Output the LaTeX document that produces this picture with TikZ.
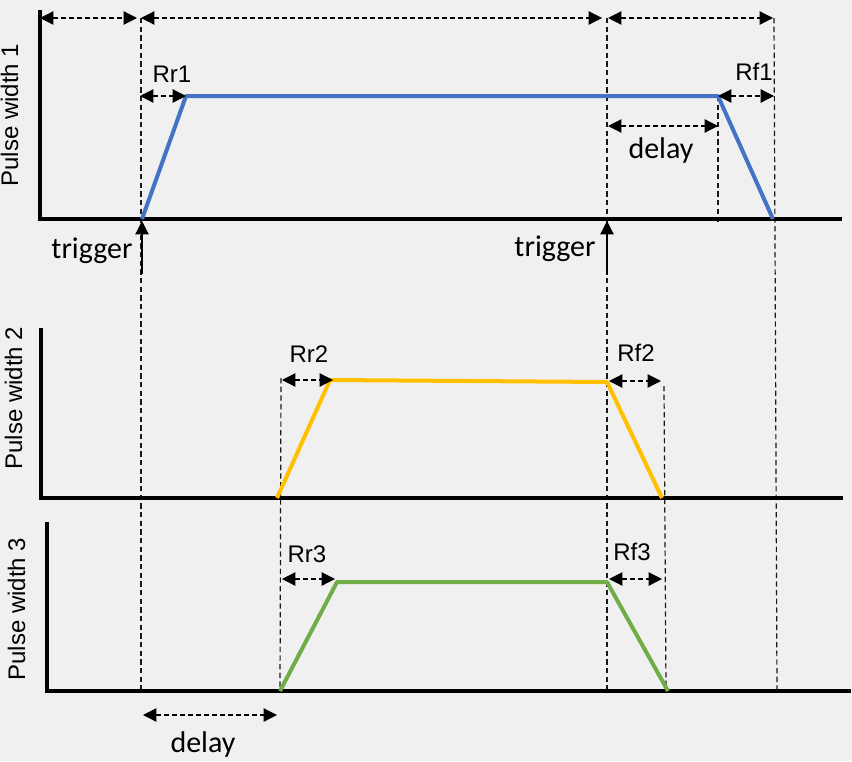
\documentclass[tikz,border=0pt]{standalone}
\usepackage{fontspec}
\setmainfont{Liberation Sans}
\newfontfamily\calibrifont{Carlito}
\usepackage{tikz}
\usetikzlibrary{arrows.meta}

\definecolor{pulseblue}{HTML}{4472C4}
\definecolor{pulseorange}{HTML}{FFC000}
\definecolor{pulsegreen}{HTML}{70AD47}
\definecolor{bggray}{HTML}{F0F0F0}

\begin{document}
\begin{tikzpicture}[x=0.75pt,y=-0.75pt,
		axis/.style={line width=3pt},
		pulse/.style={line width=3pt, line join=round},
		guide/.style={dash pattern=on 4pt off 2.5pt, line width=0.9pt, black!90},
		dim/.style={dash pattern=on 3.5pt off 2.5pt, line width=0.9pt, {Triangle[length=10pt,width=10pt]}-{Triangle[length=10pt,width=10pt]}},
		trig/.style={line width=0.9pt, -{Triangle[length=10pt,width=10pt]}},
		lbl/.style={font=\fontsize{18}{20}\selectfont, anchor=base, inner sep=0pt},
		note/.style={font=\calibrifont\fontsize{22.5}{25}\selectfont, anchor=base, inner sep=0pt}]

		\fill[bggray] (0,0) rectangle (852,761);
		\useasboundingbox (0,0) rectangle (852,761);

		% key points
		\coordinate (d0) at (40,18);
		\coordinate (d1) at (137,18);
		\coordinate (d2) at (141,18);
		\coordinate (d3) at (602,18);
		\coordinate (d4) at (608,18);
		\coordinate (d5) at (773,18);

		\coordinate (g1a) at (141,18);   \coordinate (g1b) at (141,690);
		\coordinate (g2a) at (607,18);   \coordinate (g2b) at (607,690);
		\coordinate (g3a) at (718,96);   \coordinate (g3b) at (718,222);
		\coordinate (g4a) at (774,18);   \coordinate (g4b) at (777,690);
		\coordinate (g5a) at (281,378);  \coordinate (g5b) at (280,690);
		\coordinate (g6a) at (664,386);  \coordinate (g6b) at (666,690);

		\coordinate (ax1top) at (40,10);  \coordinate (ax1o) at (40,219);  \coordinate (ax1end) at (842,219);
		\coordinate (ax2top) at (41,328); \coordinate (ax2o) at (41,498);  \coordinate (ax2end) at (843,498);
		\coordinate (ax3top) at (47,522); \coordinate (ax3o) at (47,691);  \coordinate (ax3end) at (851,691);

		\coordinate (b1) at (142,219); \coordinate (b2) at (186,96);  \coordinate (b3) at (718,96);  \coordinate (b4) at (773,219);
		\coordinate (o1) at (277,498); \coordinate (o2) at (330,380); \coordinate (o3) at (607,382); \coordinate (o4) at (662,498);
		\coordinate (e1) at (280,691); \coordinate (e2) at (337,582); \coordinate (e3) at (607,582); \coordinate (e4) at (668,691);

		\coordinate (rr1s) at (140,96);  \coordinate (rf1e) at (774,96);
		\coordinate (dl1s) at (608,126); \coordinate (dl1e) at (718,126);
		\coordinate (rr2s) at (282,380); \coordinate (rr2e) at (333,380);
		\coordinate (rf2s) at (609,381); \coordinate (rf2e) at (661,381);
		\coordinate (rr3s) at (282,579); \coordinate (rr3e) at (335,579);
		\coordinate (rf3s) at (609,579); \coordinate (rf3e) at (662,579);
		\coordinate (dl3s) at (143,715); \coordinate (dl3e) at (277,715);

		\coordinate (tr1tail) at (142,274); \coordinate (tr1tip) at (142,221);
		\coordinate (tr2tail) at (607,274); \coordinate (tr2tip) at (607,221);

		% guides
		\draw[guide] (g1a) -- (g1b);
		\draw[guide] (g2a) -- (g2b);
		\draw[guide] (g3a) -- (g3b);
		\draw[guide] (g4a) -- (g4b);
		\draw[guide] (g5a) -- (g5b);
		\draw[guide] (g6a) -- (g6b);

		% axes
		\draw[axis] (ax1top) -- (ax1o) -- (ax1end);
		\draw[axis] (ax2top) -- (ax2o) -- (ax2end);
		\draw[axis] (ax3top) -- (ax3o) -- (ax3end);

		% pulses
		\draw[pulse, pulseblue] (b1) -- (b2) -- (b3) -- (b4);
		\draw[pulse, pulseorange] (o1) -- (o2) -- (o3) -- (o4);
		\draw[pulse, pulsegreen] (e1) -- (e2) -- (e3) -- (e4);

		% dimensions
		\draw[dim] (d0) -- (d1);
		\draw[dim] (d2) -- (d3);
		\draw[dim] (d4) -- (d5);
		\draw[dim] (rr1s) -- (b2);
		\draw[dim] (b3) -- (rf1e);
		\draw[dim] (dl1s) -- (dl1e);
		\draw[dim] (rr2s) -- (rr2e);
		\draw[dim] (rf2s) -- (rf2e);
		\draw[dim] (rr3s) -- (rr3e);
		\draw[dim] (rf3s) -- (rf3e);
		\draw[dim] (dl3s) -- (dl3e);

		\draw[trig] (tr1tail) -- (tr1tip);
		\draw[trig] (tr2tail) -- (tr2tip);

		% labels
		\node[lbl] (rr1) at (172,82) {Rr1};
		\node[lbl] (rf1) at (754,80) {Rf1};
		\node[lbl] (rr2) at (309,362) {Rr2};
		\node[lbl] (rf2) at (636,361) {Rf2};
		\node[lbl] (rr3) at (307,562) {Rr3};
		\node[lbl] (rf3) at (632,560) {Rf3};
		\node[note] (trig1) at (92,258) {trigger};
		\node[note] (trig2) at (555,256) {trigger};
		\node[note] (delay1) at (661,158) {delay};
		\node[note] (delay2) at (203,752) {delay};
		\node[lbl, rotate=90] (pw1) at (18,115) {Pulse width 1};
		\node[lbl, rotate=90] (pw2) at (22,398) {Pulse width 2};
		\node[lbl, rotate=90] (pw3) at (25,609) {Pulse width 3};
	\end{tikzpicture}
\end{document}
